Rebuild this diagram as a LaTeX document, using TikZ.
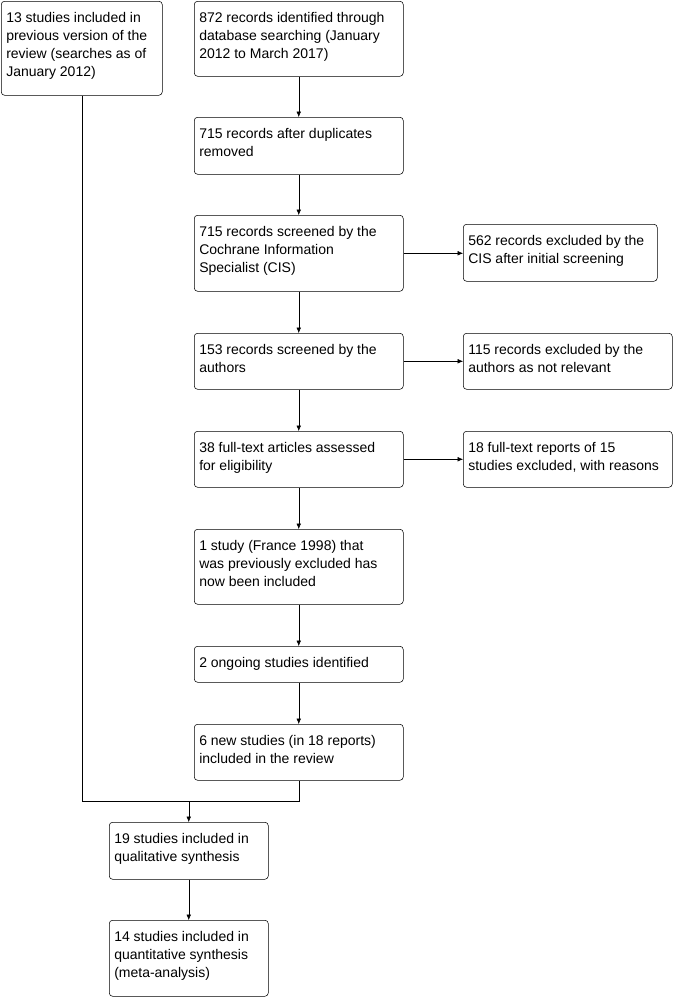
\documentclass[tikz,border=0pt]{standalone}
\usepackage{fontspec}
\setmainfont{Liberation Sans}
\usepackage{tikz}
\usetikzlibrary{arrows.meta, positioning}

% text block of a box: width, height, lines
\newcommand{\boxtext}[3]{\parbox[c][#2][t]{#1}{\raggedright\rule{0pt}{15.75pt}#3}}

\begin{document}
\begin{tikzpicture}[
      x=0.75pt, y=-0.75pt,
      box/.style={rectangle, draw, rounded corners=2.5pt, anchor=north west, inner xsep=3.75pt, inner ysep=0pt, font=\fontsize{10.5}{13.5}\selectfont},
      arrow/.style={-{Latex[length=4pt,width=3.5pt]}},
      line/.style={draw}
    ]
      \useasboundingbox (0,0) rectangle (675,997);

      % Left column
      \node[box] (prev) at (1,1) {\boxtext{113.25pt}{70.5pt}{13 studies included in\\previous version of the\\review (searches as of\\January 2012)}};

      % Main column
      \node[box] (ident) at (194,1) {\boxtext{149.25pt}{56.25pt}{872 records identified through\\database searching (January\\2012 to March 2017)}};
      \node[box] (dupl) at (194,117) {\boxtext{149.25pt}{42.75pt}{715 records after duplicates\\removed}};
      \node[box] (cis) at (194,215) {\boxtext{149.25pt}{57pt}{715 records screened by the\\Cochrane Information\\Specialist (CIS)}};
      \node[box] (authors) at (194,333) {\boxtext{149.25pt}{42pt}{153 records screened by the\\authors}};
      \node[box] (fulltext) at (194,431) {\boxtext{149.25pt}{42pt}{38 full-text articles assessed\\for eligibility}};
      \node[box] (france) at (194,529) {\boxtext{149.25pt}{56.25pt}{1 study (France 1998) that\\was previously excluded has\\now been included}};
      \node[box] (ongoing) at (194,646) {\boxtext{149.25pt}{27pt}{2 ongoing studies identified}};
      \node[box] (newstud) at (194,724) {\boxtext{149.25pt}{42pt}{6 new studies (in 18 reports)\\included in the review}};

      % Exclusions
      \node[box] (exclcis) at (463,224) {\boxtext{138pt}{42.75pt}{562 records excluded by the\\CIS after initial screening}};
      \node[box] (exclauth) at (463,333) {\boxtext{149.25pt}{42pt}{115 records excluded by the\\authors as not relevant}};
      \node[box] (exclfull) at (463,431) {\boxtext{149.25pt}{42pt}{18 full-text reports of 15\\studies excluded, with reasons}};

      % Synthesis
      \node[box] (qual) at (109,822) {\boxtext{111.75pt}{42.75pt}{19 studies included in\\qualitative synthesis}};
      \node[box] (quant) at (109,920) {\boxtext{111.75pt}{57pt}{14 studies included in\\quantitative synthesis\\(meta-analysis)}};

      \coordinate (join) at (qual.north |- 0,801);

      % Arrows
      \draw[arrow] (ident) -- (dupl);
      \draw[arrow] (dupl) -- (cis);
      \draw[arrow] (cis) -- (authors);
      \draw[arrow] (authors) -- (fulltext);
      \draw[arrow] (fulltext) -- (france);
      \draw[arrow] (france) -- (ongoing);
      \draw[arrow] (ongoing) -- (newstud);
      \draw[arrow] (cis.east) -- (cis.east -| exclcis.west);
      \draw[arrow] (authors.east) -- (exclauth.west);
      \draw[arrow] (fulltext.east) -- (exclfull.west);
      \draw[line] (prev.south) |- (join) -| (newstud.south);
      \draw[arrow] (join) -- (qual);
      \draw[arrow] (qual) -- (quant);

    \end{tikzpicture}
\end{document}
